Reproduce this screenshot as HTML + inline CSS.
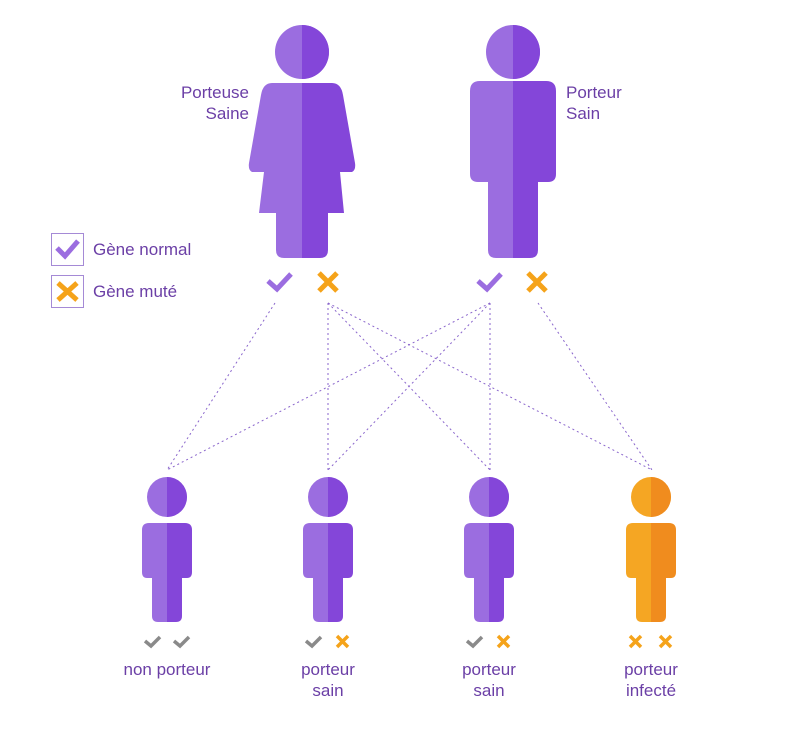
<!DOCTYPE html>
<html><head><meta charset="utf-8"><style>
body{margin:0;background:#fff;width:800px;height:727px;overflow:hidden}
svg text{font-family:"Liberation Sans",sans-serif;fill:#6b3fa6}
</style></head><body>
<svg width="800" height="727" viewBox="0 0 800 727" xmlns="http://www.w3.org/2000/svg">
<defs>
<clipPath id="L"><rect x="0" y="0" width="0" height="0"/></clipPath>
</defs>
<!-- lines -->
<g stroke="#8a66cc" stroke-width="1" stroke-dasharray="2,3" fill="none">
<line x1="275" y1="303" x2="167" y2="470"/>
<line x1="328" y1="303" x2="328" y2="470"/>
<line x1="328" y1="303" x2="490" y2="470"/>
<line x1="328" y1="303" x2="652" y2="470"/>
<line x1="490" y1="303" x2="167" y2="470"/>
<line x1="490" y1="303" x2="328" y2="470"/>
<line x1="490" y1="303" x2="490" y2="470"/>
<line x1="538" y1="303" x2="652" y2="470"/>
</g>
<!-- woman -->
<g>
<circle cx="302" cy="52" r="27" fill="#9b6de0"/>
<path d="M302 25 A27 27 0 0 1 302 79 Z" fill="#8446d9"/>
<path d="M272 83 L302 83 L302 258 L284 258 Q276 258 276 250 L276 213 L259 213 L264 172 L252 172 Q248 170 249 163 L261 95 Q263 83 272 83 Z" fill="#9b6de0"/>
<path d="M332 83 L302 83 L302 258 L320 258 Q328 258 328 250 L328 213 L344 213 L340 172 L352 172 Q356 170 355 163 L343 95 Q341 83 332 83 Z" fill="#8446d9"/>
</g>
<!-- man -->
<g>
<circle cx="513" cy="52" r="27" fill="#9b6de0"/>
<path d="M513 25 A27 27 0 0 1 513 79 Z" fill="#8446d9"/>
<path d="M480 81 L513 81 L513 258 L496 258 Q488 258 488 250 L488 182 L478 182 Q470 182 470 174 L470 91 Q470 81 480 81 Z" fill="#9b6de0"/>
<path d="M546 81 L513 81 L513 258 L530 258 Q538 258 538 250 L538 182 L548 182 Q556 182 556 174 L556 91 Q556 81 546 81 Z" fill="#8446d9"/>
</g>
<text x="249" y="98" font-size="17" text-anchor="end">Porteuse</text>
<text x="249" y="119" font-size="17" text-anchor="end">Saine</text>
<text x="566" y="98" font-size="17">Porteur</text>
<text x="566" y="119" font-size="17">Sain</text>
<!-- parent genes -->
<g stroke-width="5" fill="none" stroke-linecap="butt">
<polyline points="268,281 277,289 291,274" stroke="#9b6de0"/>
<path d="M319 273 L337 291 M337 273 L319 291" stroke="#f5a31a"/>
<polyline points="478,281 487,289 501,274" stroke="#9b6de0"/>
<path d="M528 273 L546 291 M546 273 L528 291" stroke="#f5a31a"/>
</g>
<!-- legend -->
<rect x="51.5" y="233.5" width="32" height="32" fill="none" stroke="#a58ad6" stroke-width="1"/>
<polyline points="57,248 65,256 78,241" stroke="#9b6de0" stroke-width="5" fill="none"/>
<rect x="51.5" y="275.5" width="32" height="32" fill="none" stroke="#a58ad6" stroke-width="1"/>
<path d="M58 283 L77 300 M77 283 L58 300" stroke="#f5a31a" stroke-width="5"/>
<text x="93" y="255" font-size="17">Gène normal</text>
<text x="93" y="297" font-size="17">Gène muté</text>
<!-- children -->
<g id="c1">
<circle cx="167" cy="497" r="20" fill="#9b6de0"/>
<path d="M167 477 A20 20 0 0 1 167 517 Z" fill="#8446d9"/>
<path d="M149 523 L167 523 L167 622 L158 622 Q152 622 152 616 L152 578 L147 578 Q142 578 142 572 L142 530 Q142 523 149 523Z" fill="#9b6de0"/>
<path d="M185 523 L167 523 L167 622 L176 622 Q182 622 182 616 L182 578 L187 578 Q192 578 192 572 L192 530 Q192 523 185 523Z" fill="#8446d9"/>
</g>
<use href="#c1" x="161"/>
<use href="#c1" x="322"/>
<g>
<circle cx="651" cy="497" r="20" fill="#f5a623"/>
<path d="M651 477 A20 20 0 0 1 651 517 Z" fill="#f08c1e"/>
<path d="M633 523 L651 523 L651 622 L642 622 Q636 622 636 616 L636 578 L631 578 Q626 578 626 572 L626 530 Q626 523 633 523Z" fill="#f5a623"/>
<path d="M669 523 L651 523 L651 622 L660 622 Q666 622 666 616 L666 578 L671 578 Q676 578 676 572 L676 530 Q676 523 669 523Z" fill="#f08c1e"/>
</g>
<!-- child genes -->
<g stroke-width="3.5" fill="none">
<polyline points="145,641 151,646 160,637" stroke="#8a8a8a"/>
<polyline points="174,641 180,646 189,637" stroke="#8a8a8a"/>
<polyline points="306,641 312,646 321,637" stroke="#8a8a8a"/>
<path d="M337 636 L348 647 M348 636 L337 647" stroke="#f5a31a"/>
<polyline points="467,641 473,646 482,637" stroke="#8a8a8a"/>
<path d="M498 636 L509 647 M509 636 L498 647" stroke="#f5a31a"/>
<path d="M630 636 L641 647 M641 636 L630 647" stroke="#f5a31a"/>
<path d="M660 636 L671 647 M671 636 L660 647" stroke="#f5a31a"/>
</g>
<g font-size="17" text-anchor="middle">
<text x="167" y="675">non porteur</text>
<text x="328" y="675">porteur</text>
<text x="328" y="696">sain</text>
<text x="489" y="675">porteur</text>
<text x="489" y="696">sain</text>
<text x="651" y="675">porteur</text>
<text x="651" y="696">infecté</text>
</g>
</svg>
</body></html>
